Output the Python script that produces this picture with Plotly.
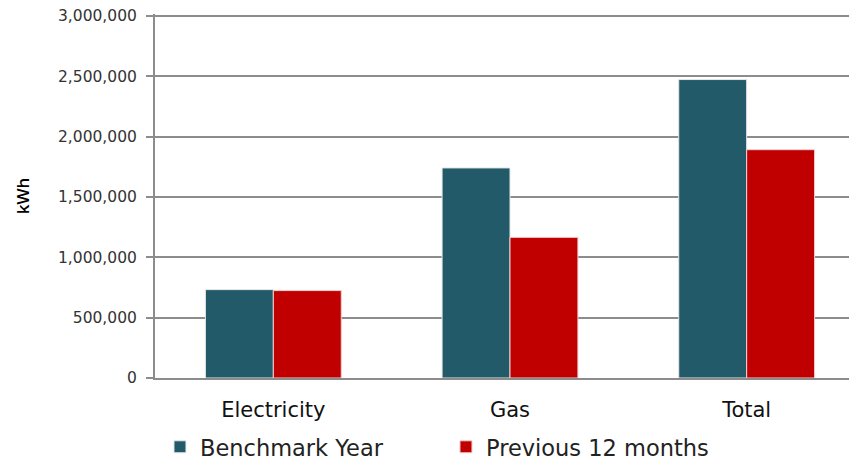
import plotly.graph_objects as go

categories = ["Electricity", "Gas", "Total"]
benchmark = [732000, 1740000, 2472000]
previous = [724000, 1165000, 1891000]
tick_vals = [0, 500000, 1000000, 1500000, 2000000, 2500000, 3000000]
tick_text = ["0", "500,000", "1,000,000", "1,500,000", "2,000,000", "2,500,000", "3,000,000"]

fig = go.Figure()
fig.add_trace(go.Bar(x=categories, y=benchmark, name="Benchmark Year",
                     marker=dict(color="#225A69", line=dict(color="#e6e6e6", width=1))))
fig.add_trace(go.Bar(x=categories, y=previous, name="Previous 12 months",
                     marker=dict(color="#C00000", line=dict(color="#f0d0d0", width=1))))

fig.update_layout(
    width=857, height=460,
    margin=dict(l=147, r=0, t=6, b=90, autoexpand=False),
    paper_bgcolor="white", plot_bgcolor="white",
    barmode="group", bargap=0.426, bargroupgap=0,
    showlegend=True,
    legend=dict(orientation="h", x=0.007, xanchor="left", y=-0.19, yanchor="middle",
                font=dict(family="DejaVu Sans, sans-serif", size=22.5, color="#222"),
                itemwidth=30, traceorder="normal", entrywidth=241),
    font=dict(family="DejaVu Sans, sans-serif", color="#333"),
)
fig.update_yaxes(
    range=[0, 3015000], tickvals=tick_vals, ticktext=tick_text,
    showgrid=True, gridcolor="#8c8c8c", gridwidth=2,
    showline=True, linecolor="#8c8c8c", linewidth=2,
    ticks="outside", ticklen=7, tickcolor="#8c8c8c", tickwidth=2,
    ticklabelstandoff=6, ticklabeloverflow="allow",
    tickfont=dict(family="DejaVu Sans, sans-serif", size=15.5, color="#333"),
    title=dict(text="kWh", font=dict(family="Open Sans, sans-serif", size=17, color="#000", weight=600), standoff=24),
    zeroline=False, automargin=False,
)
fig.update_xaxes(
    showline=True, linecolor="#8c8c8c", linewidth=2,
    ticklabelstandoff=12,
    tickfont=dict(family="DejaVu Sans, sans-serif", size=21, color="#111"),
    ticks="", showgrid=False, automargin=False,
)
fig.write_html("out.html")
